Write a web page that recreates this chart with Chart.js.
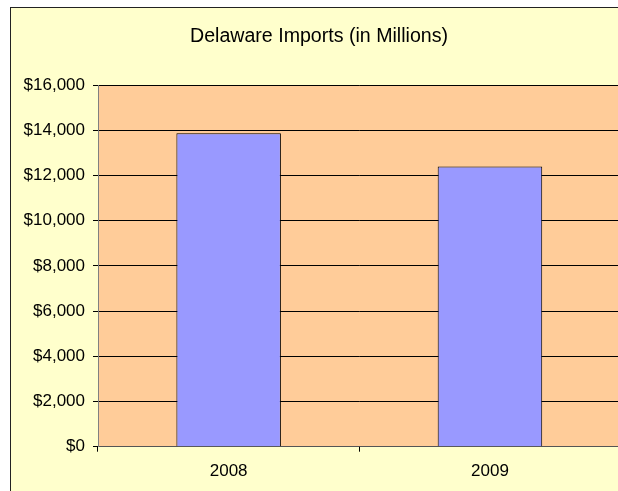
<!DOCTYPE html>
<html>
<head>
<meta charset="utf-8">
<title>Delaware Imports</title>
<script src="https://cdn.jsdelivr.net/npm/chart.js@4.4.0/dist/chart.umd.min.js"></script>
<style>
  html, body { margin: 0; padding: 0; overflow: hidden; background: #fff; }
  #importsChart { position: absolute; left: 0; top: 0; }
</style>
</head>
<body>
<canvas id="importsChart" width="640" height="491"></canvas>
<script>
// values in millions of dollars
const years = ['2008', '2009'];
const imports = [13870, 12390];
const yTicks = [0, 2000, 4000, 6000, 8000, 10000, 12000, 14000, 16000];

const FONT = '"Liberation Sans", Arial, sans-serif';

// yellow chart frame + orange plot area
const framePlugin = {
    id: 'frame',
    beforeDraw(chart) {
        const { ctx, chartArea: a } = chart;
        ctx.save();
        ctx.fillStyle = '#ffffff';
        ctx.fillRect(0, 0, chart.width, chart.height);
        ctx.fillStyle = '#ffffcc';
        ctx.fillRect(10, 7, chart.width, chart.height);
        ctx.fillStyle = '#222222';
        ctx.fillRect(10, 7, chart.width, 1);
        ctx.fillRect(10, 7, 1, chart.height);
        ctx.fillStyle = '#ffcc99';
        ctx.fillRect(a.left, a.top, a.right - a.left, a.bottom - a.top);
        ctx.restore();
    }
};

new Chart(document.getElementById('importsChart'), {
    type: 'bar',
    data: {
        labels: years,
        datasets: [{
            data: imports,
            backgroundColor: '#9999ff',
            borderColor: '#000000',
            borderWidth: 1,
            barPercentage: 0.4,
            categoryPercentage: 1
        }]
    },
    options: {
        responsive: false,
        animation: false,
        devicePixelRatio: 1,
        layout: { padding: { left: 17.4, right: 19.4, top: 0, bottom: 0 } },
        plugins: {
            legend: { display: false },
            tooltip: { enabled: false },
            title: {
                display: true,
                text: 'Delaware Imports (in Millions)',
                color: '#000000',
                font: { family: FONT, size: 19.6, weight: 'normal', lineHeight: 1.2 },
                padding: { top: 24.7, bottom: 36.8 }
            }
        },
        scales: {
            x: {
                offset: true,
                grid: {
                    offset: true,
                    drawOnChartArea: false,
                    drawTicks: true,
                    tickLength: 5,
                    color: '#000000'
                },
                border: { color: '#555555', width: 1 },
                ticks: {
                    color: '#000000',
                    padding: 9,
                    font: { family: FONT, size: 17 }
                },
                afterFit(scale) { scale.height = 44.3; }
            },
            y: {
                min: 0,
                max: 16000,
                afterBuildTicks(scale) {
                    scale.ticks = yTicks.map(v => ({ value: v }));
                },
                grid: {
                    color: '#000000',
                    lineWidth: 1,
                    tickLength: 5
                },
                border: { color: '#808080', width: 1 },
                ticks: {
                    color: '#000000',
                    padding: 8,
                    font: { family: FONT, size: 17 },
                    callback: v => '$' + v.toLocaleString('en-US')
                },
                afterFit(scale) { scale.width = 80.6; }
            }
        }
    },
    plugins: [framePlugin]
});
</script>
</body>
</html>
